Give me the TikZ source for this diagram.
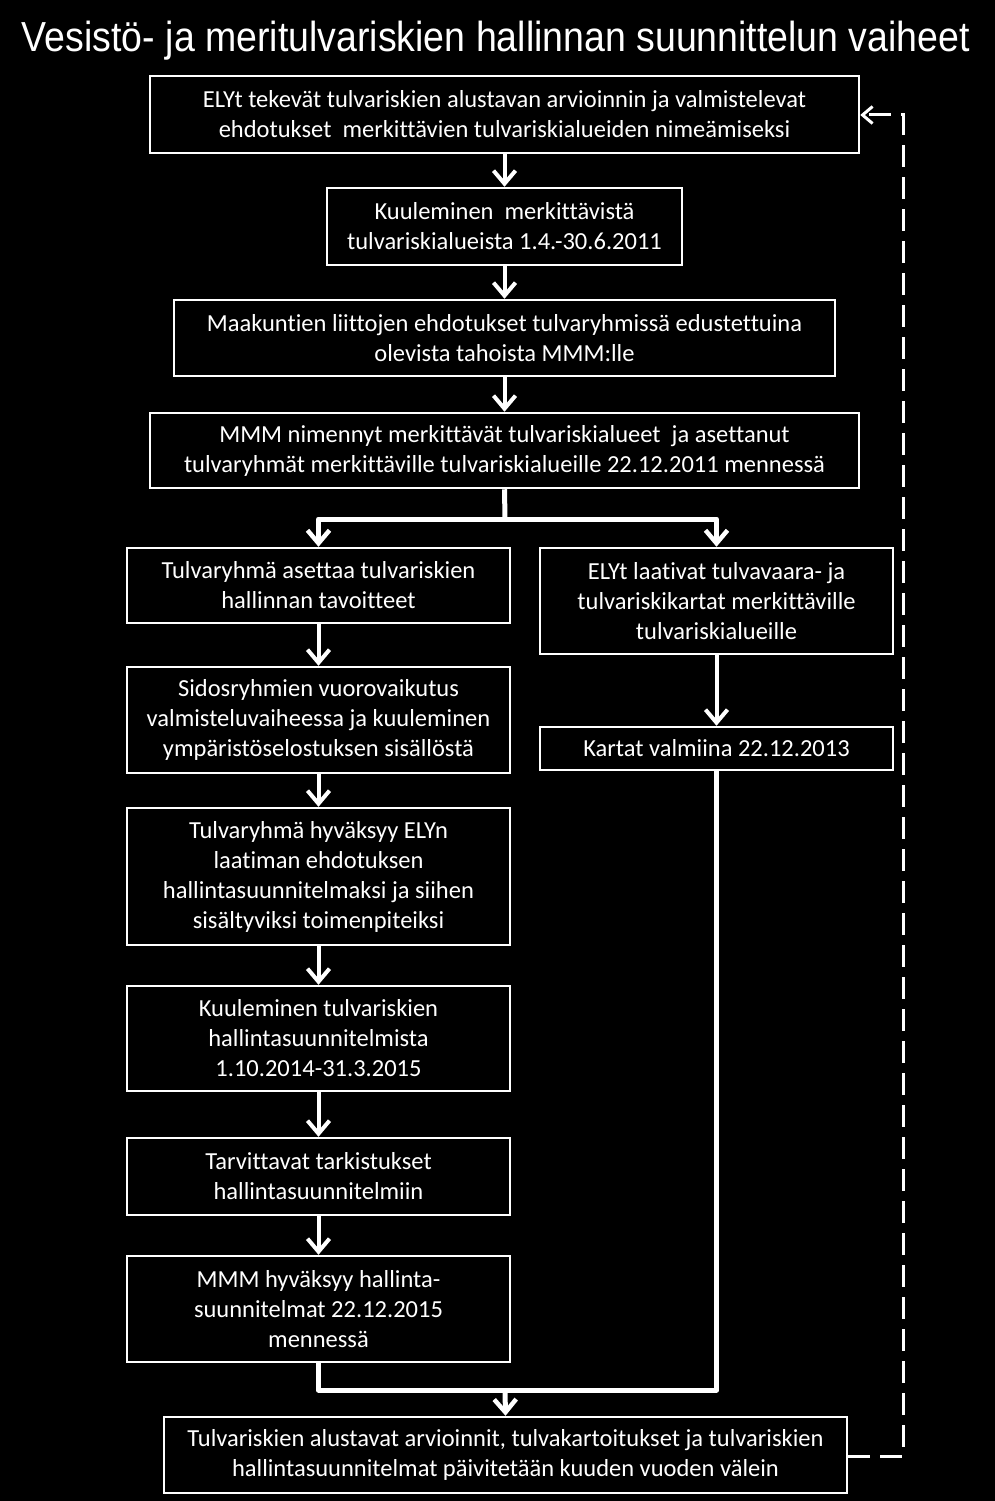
\documentclass[tikz,border=0pt]{standalone}
\usepackage{fontspec}
\setmainfont[Ligatures={NoCommon}]{Carlito}
\newfontfamily\titlefont{Liberation Sans}
\usetikzlibrary{arrows.meta}
\begin{document}
\begin{tikzpicture}[x=1pt,y=-1pt,
  box/.style={draw=white, line width=2.5pt, rectangle, inner sep=0pt, align=center, text=white,
    font=\fontsize{24.5}{30}\selectfont},
  flow/.style={draw=white, line width=4pt, -{Straight Barb[length=13pt,width=22pt,line width=4pt]}},
  trunk/.style={draw=white, line width=5pt, line join=round},
  flowthick/.style={draw=white, line width=5pt, line join=round, -{Straight Barb[length=13pt,width=22pt,line width=4.5pt]}},
  feedback/.style={draw=white, line width=3pt, dash pattern=on 22pt off 10pt, -{Straight Barb[length=10pt,width=17pt,line width=3pt]}}
]
\fill[black] (0,0) rectangle (995,1501);
\useasboundingbox (0,0) rectangle (995,1501);
\node[anchor=base, text=white] (title) at (496,52) {\resizebox{948pt}{\height}{\titlefont\fontsize{42}{48}\selectfont Vesistö- ja meritulvariskien hallinnan suunnittelun vaiheet}};

\node[box, minimum width=709pt, minimum height=77pt] (b1) at (504.5,114.5) {ELYt tekevät tulvariskien alustavan arvioinnin ja valmistelevat\\ehdotukset\ \ merkittävien tulvariskialueiden nimeämiseksi};
\node[box, minimum width=355pt, minimum height=77pt] (b2) at (504.5,226.5) {Kuuleminen\ \ merkittävistä\\tulvariskialueista 1.4.-30.6.2011};
\node[box, minimum width=661pt, minimum height=76pt] (b3) at (504.5,338) {Maakuntien liittojen ehdotukset tulvaryhmissä edustettuina\\olevista tahoista MMM:lle};
\node[box, minimum width=709pt, minimum height=75pt] (b4) at (504.5,450.5) {MMM nimennyt merkittävät tulvariskialueet\ \ ja asettanut\\tulvaryhmät merkittäville tulvariskialueille 22.12.2011 mennessä};

\node[box, minimum width=383pt, minimum height=75pt] (b5) at (318.5,585.5) {Tulvaryhmä asettaa tulvariskien\\hallinnan tavoitteet};
\node[box, minimum width=353pt, minimum height=106pt] (r1) at (716.5,601) {ELYt laativat tulvavaara- ja\\tulvariskikartat merkittäville\\tulvariskialueille};
\node[box, minimum width=353pt, minimum height=43pt] (r2) at (716.5,748.5) {Kartat valmiina 22.12.2013};
\node[box, minimum width=383pt, minimum height=106pt] (b6) at (318.5,720) {Sidosryhmien vuorovaikutus\\valmisteluvaiheessa ja kuuleminen\\ympäristöselostuksen sisällöstä};
\node[box, minimum width=383pt, minimum height=137pt] (b7) at (318.5,876.5) {Tulvaryhmä hyväksyy ELYn\\laatiman ehdotuksen\\hallintasuunnitelmaksi ja siihen\\sisältyviksi toimenpiteiksi};
\node[box, minimum width=383pt, minimum height=105pt] (b8) at (318.5,1038.5) {Kuuleminen tulvariskien\\hallintasuunnitelmista\\1.10.2014-31.3.2015};
\node[box, minimum width=383pt, minimum height=77pt] (b9) at (318.5,1176.5) {Tarvittavat tarkistukset\\hallintasuunnitelmiin};
\node[box, minimum width=383pt, minimum height=106pt] (b10) at (318.5,1309) {MMM hyväksyy hallinta-\\suunnitelmat 22.12.2015\\mennessä};
\node[box, minimum width=683pt, minimum height=76pt] (b11) at (505.5,1455) {Tulvariskien alustavat arvioinnit, tulvakartoitukset ja tulvariskien\\hallintasuunnitelmat päivitetään kuuden vuoden välein};

\draw[flow] (b1.south) -- (b2.north);
\draw[flow] (b2.south) -- (b3.north);
\draw[flow] (b3.south) -- (b4.north);
\draw[flow] (b5.south) -- (b6.north);
\draw[flow] (b6.south) -- (b7.north);
\draw[flow] (b7.south) -- (b8.north);
\draw[flow] (b8.south) -- (b9.north);
\draw[flow] (b9.south) -- (b10.north);
\draw[flow] (r1.south) -- (r2.north);

\coordinate (split) at (505,519);
\coordinate (merge) at (505,1390);
\draw[trunk] (b4.south) -- (split);
\draw[flowthick] (split) -| (b5.north);
\draw[flowthick] (split) -| (r1.north);
\draw[trunk] (b10.south) |- (merge);
\draw[trunk] (r2.south) |- (merge);
\draw[flowthick] (merge) -- (b11.north);

\coordinate (fb1) at (903,1456);
\coordinate (fb2) at (903,115);
\draw[feedback] (b11.east |- fb1) -- (fb1) -- (fb2) -- (b1.east |- fb2);
\end{tikzpicture}
\end{document}
